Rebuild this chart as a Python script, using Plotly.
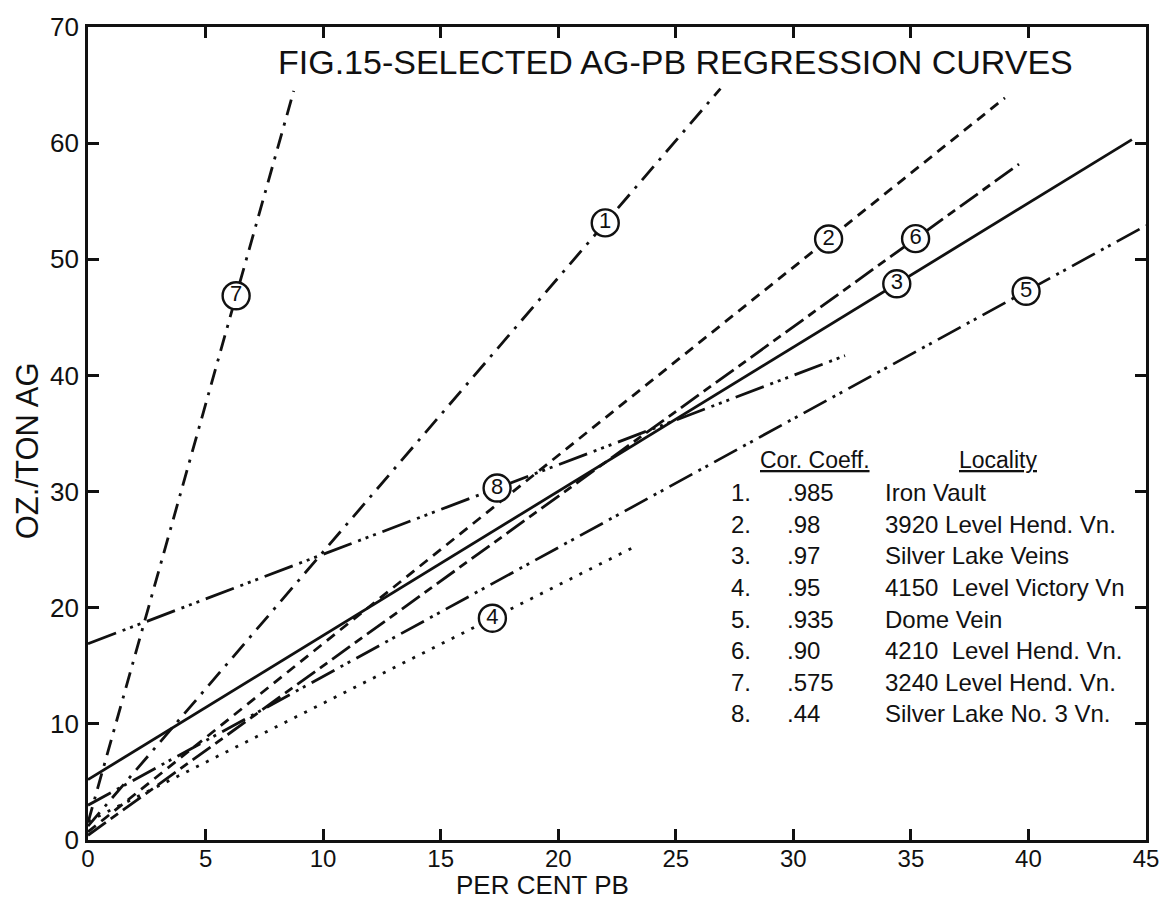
import plotly.graph_objects as go

# Regression curves: end points read as (per cent Pb, oz/ton Ag)
curve_ids = [1, 2, 3, 4, 5, 6, 7, 8]
x_start = [0.0, 0.0, 0.0, 0.0, 0.0, 0.0, 0.0, 0.0]
y_start = [1.2, 0.7, 5.2, 1.6, 3.0, 0.4, 1.5, 16.9]
x_end = [26.9, 39.0, 44.4, 23.2, 45.0, 39.6, 8.75, 32.2]
y_end = [64.7, 63.9, 60.3, 25.2, 52.9, 58.2, 64.5, 41.7]

# Where each circled number sits along its curve (per cent Pb)
label_x = [22.0, 31.5, 34.4, 17.2, 39.9, 35.2, 6.3, 17.4]

# Table of correlation coefficients and localities
corr_coeff = [".985", ".98", ".97", ".95", ".935", ".90", ".575", ".44"]
locality = [
    "Iron Vault",
    "3920 Level Hend. Vn.",
    "Silver Lake Veins",
    "4150  Level Victory Vn",
    "Dome Vein",
    "4210  Level Hend. Vn.",
    "3240 Level Hend. Vn.",
    "Silver Lake No. 3 Vn.",
]

x_ticks = [0, 5, 10, 15, 20, 25, 30, 35, 40, 45]
y_ticks = [0, 10, 20, 30, 40, 50, 60, 70]

dash_styles = {
    1: "18px,8px,3px,8px",
    2: "10px,7px",
    3: "solid",
    4: "3px,8px",
    5: "26px,7px,3px,5px,3px,7px",
    6: "22px,6px,9px,6px",
    7: "16px,8px,3px,8px",
    8: "30px,7px,3px,5px,3px,5px,3px,7px",
}

INK = "#111111"
FONT = "Liberation Sans"

fig = go.Figure()

for i, cid in enumerate(curve_ids):
    fig.add_trace(go.Scatter(
        x=[x_start[i], x_end[i]],
        y=[y_start[i], y_end[i]],
        mode="lines",
        line=dict(color=INK, width=2.8, dash=dash_styles[cid]),
        hoverinfo="skip",
        showlegend=False,
    ))

# Circled curve numbers, placed on each line
lab_y = []
for i in range(len(curve_ids)):
    t = (label_x[i] - x_start[i]) / (x_end[i] - x_start[i])
    lab_y.append(y_start[i] + t * (y_end[i] - y_start[i]))

fig.add_trace(go.Scatter(
    x=label_x,
    y=lab_y,
    mode="markers+text",
    marker=dict(symbol="circle", size=27, color="white",
                line=dict(color=INK, width=2.4)),
    text=[str(c) for c in curve_ids],
    textposition="middle center",
    textfont=dict(family=FONT, size=22, color=INK),
    hoverinfo="skip",
    showlegend=False,
))

annotations = []

# Table headers
annotations.append(dict(x=28.5, y=32.7, xref="x", yref="y", text="<u>Cor. Coeff.</u>",
                        showarrow=False, xanchor="left", yanchor="middle",
                        font=dict(family=FONT, size=23, color=INK)))
annotations.append(dict(x=36.97, y=32.7, xref="x", yref="y", text="<u>Locality</u>",
                        showarrow=False, xanchor="left", yanchor="middle",
                        font=dict(family=FONT, size=23, color=INK)))

row_y0 = 29.9
row_step = 2.72
for i, cid in enumerate(curve_ids):
    ry = row_y0 - i * row_step
    annotations.append(dict(x=27.25, y=ry, xref="x", yref="y", text=f"{cid}.",
                            showarrow=False, xanchor="left", yanchor="middle",
                            font=dict(family=FONT, size=24, color=INK)))
    annotations.append(dict(x=29.66, y=ry, xref="x", yref="y", text=corr_coeff[i],
                            showarrow=False, xanchor="left", yanchor="middle",
                            font=dict(family=FONT, size=24, color=INK)))
    annotations.append(dict(x=33.8, y=ry, xref="x", yref="y", text=locality[i],
                            showarrow=False, xanchor="left", yanchor="middle",
                            font=dict(family=FONT, size=24, color=INK)))

# Figure title inside the frame
annotations.append(dict(x=0.178, y=0.957, xref="paper", yref="paper",
                        text="FIG.15-SELECTED AG-PB REGRESSION CURVES",
                        showarrow=False, xanchor="left", yanchor="middle",
                        font=dict(family=FONT, size=34, color=INK)))

# Axis titles
annotations.append(dict(x=0.43, y=-0.055, xref="paper", yref="paper",
                        text="PER CENT PB", showarrow=False, borderpad=0,
                        xanchor="center", yanchor="middle",
                        font=dict(family=FONT, size=26, color=INK)))
annotations.append(dict(x=-0.057, y=0.479, xref="paper", yref="paper",
                        text="OZ./TON AG", showarrow=False, textangle=-90,
                        xanchor="center", yanchor="middle",
                        font=dict(family=FONT, size=31, color=INK)))

axis_common = dict(
    showgrid=False, zeroline=False,
    showline=True, linecolor=INK, linewidth=2.8, mirror="ticks",
    ticks="inside", ticklen=11, tickwidth=2.5, tickcolor=INK,
)

fig.update_layout(
    width=1171, height=901,
    margin=dict(l=88, r=19, t=20, b=61),
    paper_bgcolor="white", plot_bgcolor="white",
    annotations=annotations,
    xaxis=dict(range=[0, 45], tickvals=x_ticks, ticklabelstandoff=-5,
               tickfont=dict(family=FONT, size=24, color=INK), **axis_common),
    yaxis=dict(range=[0, 70], tickvals=y_ticks, ticklabelstandoff=1,
               tickfont=dict(family=FONT, size=26, color=INK), **axis_common),
)

fig.write_html("out.html")
